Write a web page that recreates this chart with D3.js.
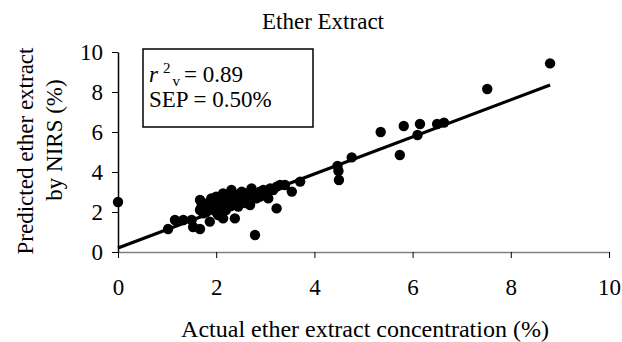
<!DOCTYPE html>
<html>
<head>
<meta charset="utf-8">
<script src="https://cdn.jsdelivr.net/npm/d3@7"></script>
<style>
  body { margin: 0; background: #fff; }
</style>
</head>
<body>
<div id="chart"></div>
<script>
const serif = "'Liberation Serif', 'Times New Roman', serif";

// values
const actual = [
  0.00, 1.02, 1.16, 1.33, 1.50, 1.53, 1.67, 1.67, 1.67, 1.70,
  1.74, 1.87, 1.90, 1.94, 1.94, 2.00, 2.04, 2.14, 2.14, 2.18,
  2.31, 2.38, 2.35, 2.52, 2.55, 2.69, 2.72, 2.79, 2.89, 2.89,
  3.06, 3.10, 3.23, 3.30, 3.40, 3.54, 3.71, 4.47, 4.49, 4.50,
  4.76, 5.35, 5.74, 5.82, 6.10, 6.15, 6.50, 6.64, 7.52, 8.80,
  1.74, 1.81, 1.87, 1.94, 2.01, 2.08, 2.08, 2.18, 2.25, 2.28,
  2.42, 2.45, 2.48, 2.59, 2.62, 2.75, 2.82, 2.92, 2.96, 3.03,
  3.16, 3.23, 1.80, 2.00, 2.20, 1.95, 2.10, 2.30, 2.60
];
const predicted = [
  2.50, 1.15, 1.60, 1.60, 1.60, 1.25, 1.15, 2.60, 2.10, 2.27,
  1.93, 1.52, 2.68, 2.18, 2.60, 2.77, 1.85, 2.93, 1.68, 2.35,
  3.10, 1.68, 2.52, 3.02, 2.60, 2.35, 3.18, 0.85, 3.02, 2.77,
  2.68, 3.18, 2.18, 3.35, 3.35, 3.02, 3.52, 4.30, 4.05, 3.60,
  4.73, 6.00, 4.85, 6.30, 5.85, 6.40, 6.40, 6.47, 8.15, 9.43,
  2.43, 2.35, 2.52, 2.43, 2.27, 2.52, 2.18, 2.68, 2.43, 2.77,
  2.85, 2.27, 2.68, 2.77, 2.93, 2.85, 2.68, 2.85, 3.10, 2.93,
  3.10, 3.27, 2.00, 2.00, 2.10, 2.35, 2.40, 2.30, 2.45
];
const trendX = [0, 8.8];
const trendY = [0.2, 8.35];
const xTicks = [0, 2, 4, 6, 8, 10];
const yTicks = [0, 2, 4, 6, 8, 10];

const width = 622, height = 342;
const svg = d3.select("#chart").append("svg")
  .attr("width", width).attr("height", height);

const x = d3.scaleLinear().domain([0, 10]).range([118, 609]);
const y = d3.scaleLinear().domain([0, 10]).range([252, 52]);

// axes
const xAxis = svg.append("g")
  .attr("transform", `translate(0,${y(0)})`)
  .call(d3.axisBottom(x).tickValues(xTicks).tickSize(6).tickSizeOuter(0).tickPadding(21));
xAxis.select(".domain").attr("stroke", "#808080").attr("stroke-width", 1.5);
xAxis.selectAll(".tick line").attr("stroke", "#000").attr("stroke-width", 1);
xAxis.selectAll("text").style("font-size", "23px").style("font-family", serif).attr("fill", "#000");

const yAxis = svg.append("g")
  .attr("transform", `translate(${x(0)},0)`)
  .call(d3.axisLeft(y).tickValues(yTicks).tickSize(6).tickSizeOuter(0).tickPadding(9));
yAxis.select(".domain").attr("stroke", "#000").attr("stroke-width", 1.5);
yAxis.selectAll(".tick line").attr("stroke", "#000").attr("stroke-width", 1);
yAxis.selectAll("text").style("font-size", "23px").style("font-family", serif).attr("fill", "#000");

// points
const pts = actual.map((a, i) => ({ a, p: predicted[i] }));
svg.append("g").selectAll("circle")
  .data(pts)
  .join("circle")
  .attr("cx", d => x(d.a))
  .attr("cy", d => y(d.p))
  .attr("r", 5.2)
  .attr("fill", "#000");

// trend line
const trend = trendX.map((v, i) => [v, trendY[i]]);
svg.append("path")
  .datum(trend)
  .attr("fill", "none")
  .attr("stroke", "#000")
  .attr("stroke-width", 3.2)
  .attr("d", d3.line().x(d => x(d[0])).y(d => y(d[1])));

function label(txt, size) {
  return svg.append("text")
    .style("font-family", serif)
    .style("font-size", size + "px")
    .attr("fill", "#000")
    .text(txt);
}

// title
label("Ether Extract", 23).attr("x", 323).attr("y", 29).attr("text-anchor", "middle");

// axis titles
label("Actual ether extract concentration (%)", 24)
  .attr("x", 365).attr("y", 337).attr("text-anchor", "middle");
label("Predicted ether extract", 23)
  .attr("transform", "translate(33,151) rotate(-90)").attr("text-anchor", "middle");
label("by NIRS (%)", 23)
  .attr("transform", "translate(62,140) rotate(-90)").attr("text-anchor", "middle");

// stats box
svg.append("rect")
  .attr("x", 143).attr("y", 49)
  .attr("width", 170).attr("height", 78)
  .attr("fill", "#fff")
  .attr("stroke", "#000")
  .attr("stroke-width", 1.5);

const r2 = label("", 23).attr("x", 149).attr("y", 82);
r2.append("tspan").attr("font-style", "italic").text("r");
r2.append("tspan").style("font-size", "15px").attr("dx", 5).attr("dy", -9).text("2");
r2.append("tspan").style("font-size", "15px").attr("dx", 2).attr("dy", 13).text("v");
r2.append("tspan").attr("dx", 4).attr("dy", -4).text("= 0.89");

label("SEP = 0.50%", 23).attr("x", 149).attr("y", 107);
</script>
</body>
</html>
